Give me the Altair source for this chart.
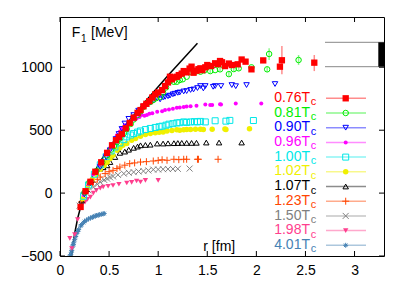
import altair as alt
import pandas as pd

# ---------------- data ----------------
labels = ["0.76", "0.81", "0.90", "0.96", "1.00", "1.02", "1.07", "1.23", "1.50", "1.98", "4.01"]

r_076 = [0.21, 0.26, 0.31, 0.36, 0.42, 0.48, 0.53, 0.57, 0.60, 0.63, 0.67, 0.71, 0.75, 0.79, 0.82, 0.85, 0.88, 0.91, 0.94, 0.97, 1.00, 1.04, 1.07, 1.10, 1.12, 1.14, 1.16, 1.19, 1.21, 1.24, 1.26, 1.29, 1.32, 1.34, 1.36, 1.39, 1.41, 1.43, 1.45, 1.48, 1.50, 1.54, 1.58, 1.61, 1.63, 1.65, 1.68, 1.72, 1.75, 1.81, 1.85, 1.89, 1.95, 2.07, 2.24, 2.26, 2.59]
f_076 = [-110, 15, 90, 170, 245, 320, 380, 420, 445, 470, 515, 558, 600, 638, 660, 690, 710, 731, 760, 785, 800, 819, 851, 880, 925, 905, 920, 925, 938, 950, 970, 960, 990, 1005, 957, 973, 985, 992, 978, 1000, 1018, 1010, 1032, 1025, 1050, 1040, 1010, 1030, 1018, 1024, 1062, 1045, 984, 1055, 1005, 1056, 1037]

r_081 = [0.25, 0.30, 0.37, 0.43, 0.48, 0.52, 0.55, 0.58, 0.61, 0.65, 0.68, 0.72, 0.75, 0.79, 0.82, 0.85, 0.885, 0.92, 0.95, 0.98, 1.02, 1.05, 1.08, 1.12, 1.16, 1.19, 1.22, 1.25, 1.29, 1.33, 1.38, 1.43, 1.47, 1.50, 1.53, 1.58, 1.63, 1.72, 1.77, 1.82, 1.95, 2.11, 2.13, 2.43]
f_081 = [5, 85, 175, 245, 300, 345, 375, 405, 434, 475, 510, 550, 585, 620, 650, 685, 713, 725, 740, 755, 766, 800, 840, 891, 885, 885, 899, 905, 925, 965, 965, 965, 975, 1005, 970, 978, 984, 946, 986, 992, 1000, 984, 1106, 1058]

r_090 = [0.25, 0.31, 0.37, 0.41, 0.47, 0.51, 0.54, 0.57, 0.60, 0.63, 0.66, 0.70, 0.75, 0.80, 0.85, 0.89, 0.92, 0.95, 0.99, 1.02, 1.05, 1.07, 1.10, 1.12, 1.15, 1.17, 1.20, 1.22, 1.26, 1.29, 1.33, 1.36, 1.40, 1.43, 1.46, 1.48, 1.56, 1.58, 1.64, 1.75, 1.79, 1.90, 2.19]
f_090 = [-10, 80, 165, 207, 285, 340, 380, 430, 470, 510, 553, 590, 620, 655, 686, 705, 720, 735, 753, 745, 760, 765, 770, 775, 785, 790, 797, 800, 808, 811, 820, 824, 835, 851, 832, 851, 845, 851, 851, 859, 850, 859, 867]

r_096 = [0.24, 0.29, 0.34, 0.40, 0.46, 0.50, 0.53, 0.56, 0.58, 0.61, 0.63, 0.66, 0.70, 0.73, 0.76, 0.78, 0.81, 0.83, 0.86, 0.885, 0.91, 0.94, 0.99, 1.04, 1.07, 1.11, 1.15, 1.19, 1.22, 1.26, 1.29, 1.33, 1.39, 1.48, 1.53, 1.55, 1.63, 1.64, 1.79, 2.05]
f_096 = [-15, 70, 150, 225, 300, 350, 390, 430, 460, 490, 514, 540, 553, 580, 585, 593, 605, 620, 615, 620, 630, 635, 646, 651, 660, 665, 670, 678, 680, 685, 688, 690, 694, 705, 700, 700, 707, 705, 712, 713]

r_100 = [0.24, 0.29, 0.35, 0.41, 0.47, 0.52, 0.56, 0.61, 0.65, 0.68, 0.72, 0.75, 0.79, 0.82, 0.87, 0.92, 0.97, 1.01, 1.04, 1.08, 1.11, 1.15, 1.19, 1.22, 1.26, 1.29, 1.33, 1.37, 1.40, 1.43, 1.48, 1.58, 1.69, 1.73, 1.97]
f_100 = [-25, 65, 150, 225, 290, 335, 367, 399, 425, 447, 462, 474, 485, 494, 505, 514, 522, 528, 532, 540, 548, 552, 558, 560, 566, 562, 566, 568, 566, 570, 566, 575, 572, 578, 577]

r_102 = [0.23, 0.28, 0.33, 0.37, 0.41, 0.45, 0.48, 0.51, 0.54, 0.58, 0.61, 0.64, 0.68, 0.73, 0.77, 0.82, 0.87, 0.92, 0.97, 1.01, 1.05, 1.09, 1.14, 1.19, 1.22, 1.26, 1.29, 1.33, 1.38, 1.43, 1.46, 1.55, 1.68, 1.69, 1.93]
f_102 = [-45, 40, 110, 150, 190, 220, 245, 275, 300, 340, 360, 380, 395, 420, 435, 452, 465, 474, 480, 484, 486, 494, 498, 504, 500, 503, 506, 505, 507, 507, 506, 508, 510, 506, 512]

r_107 = [0.22, 0.27, 0.32, 0.37, 0.41, 0.44, 0.48, 0.51, 0.56, 0.61, 0.66, 0.70, 0.75, 0.79, 0.82, 0.87, 0.92, 0.99, 1.05, 1.10, 1.16, 1.20, 1.24, 1.29, 1.34, 1.39, 1.49, 1.62, 1.85]
f_107 = [-60, 30, 105, 160, 195, 207, 221, 247, 287, 320, 330, 345, 360, 370, 380, 383, 385, 394, 394, 396, 397, 398, 399, 399, 399, 400, 402, 402, 402]

r_123 = [0.22, 0.26, 0.30, 0.34, 0.38, 0.41, 0.46, 0.50, 0.54, 0.58, 0.61, 0.66, 0.71, 0.76, 0.82, 0.88, 0.95, 1.00, 1.04, 1.09, 1.16, 1.21, 1.26, 1.29, 1.40, 1.41, 1.61]
f_123 = [-70, 10, 60, 88, 110, 128, 155, 170, 181, 195, 207, 222, 234, 240, 247, 250, 255, 260, 265, 261, 269, 266, 269, 269, 269, 269, 269]

r_150 = [0.20, 0.24, 0.29, 0.34, 0.38, 0.41, 0.45, 0.48, 0.51, 0.54, 0.59, 0.65, 0.70, 0.75, 0.80, 0.85, 0.90, 0.95, 1.00, 1.05, 1.10, 1.15, 1.20, 1.32]
f_150 = [-100, -20, 22, 48, 70, 88, 105, 115, 125, 133, 145, 155, 162, 167, 172, 175, 180, 187, 188, 190, 191, 192, 193, 195]

r_198 = [0.10, 0.12, 0.15, 0.18, 0.22, 0.255, 0.28, 0.31, 0.34, 0.37, 0.41, 0.44, 0.49, 0.54, 0.60, 0.68, 0.73, 0.78, 0.82, 0.87, 1.00]
f_198 = [-360, -440, -330, -210, -98, -72, -50, -32, 0, 22, 38, 48, 55, 61, 70, 80, 85, 96, 88, 101, 101]

r_401 = [0.10, 0.11, 0.115, 0.12, 0.13, 0.135, 0.14, 0.15, 0.16, 0.17, 0.18, 0.19, 0.21, 0.22, 0.24, 0.25, 0.27, 0.29, 0.31, 0.33, 0.34, 0.36, 0.37, 0.39, 0.40, 0.42, 0.44, 0.45]
f_401 = [-500, -490, -470, -455, -420, -410, -395, -370, -345, -320, -305, -290, -262, -250, -235, -225, -215, -205, -198, -192, -188, -182, -178, -175, -172, -168, -165, -162]

# error bars (only the visible ones)
err_r_076 = [2.07, 2.24, 2.26, 2.59]
err_lo_076 = [1035, 990, 944, 970]
err_hi_076 = [1075, 1020, 1170, 1098]
err_r_081 = [1.33, 1.43, 1.53, 1.63, 1.72, 1.77, 1.82, 1.95, 2.11, 2.13, 2.43]
err_lo_081 = [950, 950, 955, 968, 930, 970, 975, 985, 965, 1058, 1018]
err_hi_081 = [980, 980, 985, 1000, 962, 1002, 1009, 1015, 1005, 1151, 1098]

# fitted curve
curve_r = [0.118, 0.13, 0.15, 0.18, 0.22, 0.26, 0.30, 0.35, 0.40, 0.50, 0.60, 0.70, 0.80, 0.90, 1.00, 1.10, 1.20, 1.30, 1.40]
curve_f = [-500, -422, -319, -200, -81, 11, 87, 167, 238, 361, 469, 570, 665, 757, 846, 934, 1021, 1106, 1191]

x_ticks = [0, 0.5, 1, 1.5, 2, 2.5, 3]
y_ticks = [-500, 0, 500, 1000]

series_r = [r_076, r_081, r_090, r_096, r_100, r_102, r_107, r_123, r_150, r_198, r_401]
series_f = [f_076, f_081, f_090, f_096, f_100, f_102, f_107, f_123, f_150, f_198, f_401]
errors = {0: (err_r_076, err_lo_076, err_hi_076), 1: (err_r_081, err_lo_081, err_hi_081)}

# ---------------- styles ----------------
colors = ["#ff0000", "#00ee00", "#0000ff", "#ff00ff", "#00e8e8", "#f0f000",
          "#000000", "#ff4500", "#808080", "#ff3e8e", "#4682b4"]
PLUS = "M-1,0L1,0M0,-1L0,1"
CROSS = "M-1,-1L1,1M-1,1L1,-1"
STAR = "M-1,0L1,0M0,-1L0,1M-0.7,-0.7L0.7,0.7M-0.7,0.7L0.7,-0.7"
shapes = ["square", "circle", "triangle-down", "circle", "square", "circle",
          "triangle-up", PLUS, CROSS, "triangle-down", STAR]
filled = [True, False, False, True, False, True, False, False, False, True, False]
sizes = [40, 30, 30, 16, 36, 30, 30, 49, 36, 28, 25]

FONT = "Liberation Sans"
W, H = 324, 239

xs = alt.Scale(domain=[0, 3.3], nice=False, zero=False)
ys = alt.Scale(domain=[-500, 1400], nice=False, zero=False)
xaxis = alt.Axis(values=x_ticks, format="~g", title=None, ticks=False, domain=False,
                 grid=False, labelFlush=False, labelPadding=7)
yaxis = alt.Axis(values=y_ticks, format="d", title=None, ticks=False, domain=False,
                 grid=False, labelFlush=False, labelPadding=8)
X = alt.X("r:Q", scale=xs, axis=xaxis)
Y = alt.Y("F:Q", scale=ys, axis=yaxis)

dummy = pd.DataFrame({"d": [0]})
layers = []

# curve
curve_df = pd.DataFrame({"r": curve_r, "F": curve_f})
layers.append(alt.Chart(curve_df).mark_line(color="black", strokeWidth=1.5, clip=True).encode(x=X, y=Y))

# series (drawn so that low-T series end up on top)
for i in reversed(range(len(labels))):
    df = pd.DataFrame({"r": series_r[i], "F": series_f[i]})
    if i in errors:
        er, lo, hi = errors[i]
        edf = pd.DataFrame({"r": er, "lo": lo, "hi": hi})
        layers.append(alt.Chart(edf).mark_rule(color=colors[i], opacity=0.45, strokeWidth=1.5).encode(
            x=X, y=alt.Y("lo:Q", scale=ys, axis=yaxis), y2="hi:Q"))
    layers.append(alt.Chart(df).mark_point(
        shape=shapes[i], filled=filled[i], size=sizes[i], color=colors[i],
        strokeWidth=1, opacity=1, clip=True).encode(x=X, y=Y))

# legend
for i, lab in enumerate(labels):
    yp = 81.3 + 14.7 * i
    layers.append(alt.Chart(dummy).mark_rule(color=colors[i], opacity=0.45, strokeWidth=1.5).encode(
        x=alt.value(266), x2=alt.value(306), y=alt.value(yp)))
    layers.append(alt.Chart(dummy).mark_point(
        shape=shapes[i], filled=filled[i], size=sizes[i], color=colors[i], strokeWidth=1, opacity=1).encode(
        x=alt.value(285.7), y=alt.value(yp)))
    layers.append(alt.Chart(dummy).mark_text(
        text=lab + "T", align="right", baseline="alphabetic", font=FONT, fontSize=14, color=colors[i]).encode(
        x=alt.value(250), y=alt.value(yp + 3.6)))
    layers.append(alt.Chart(dummy).mark_text(
        text="c", align="left", baseline="alphabetic", font=FONT, fontSize=11, color=colors[i]).encode(
        x=alt.value(250.8), y=alt.value(yp + 7)))

# axis titles inside the frame
layers.append(alt.Chart(dummy).mark_text(text="F", align="left", baseline="alphabetic", font=FONT, fontSize=14, color="black").encode(
    x=alt.value(11.7), y=alt.value(20.3)))
layers.append(alt.Chart(dummy).mark_text(text="1", align="left", baseline="alphabetic", font=FONT, fontSize=10, color="black").encode(
    x=alt.value(21), y=alt.value(24.5)))
layers.append(alt.Chart(dummy).mark_text(text="[MeV]", align="left", baseline="alphabetic", font=FONT, fontSize=14, color="black").encode(
    x=alt.value(31), y=alt.value(20.3)))
layers.append(alt.Chart(dummy).mark_text(text="r [fm]", align="left", baseline="alphabetic", font=FONT, fontSize=14, color="black").encode(
    x=alt.value(143.3), y=alt.value(234)))

# inward ticks (mirrored)
xt = pd.DataFrame({"r": x_ticks})
yt = pd.DataFrame({"F": y_ticks})
layers.append(alt.Chart(xt).mark_rule(color="black", strokeWidth=1).encode(x=X, y=alt.value(H), y2=alt.value(H - 5)))
layers.append(alt.Chart(xt).mark_rule(color="black", strokeWidth=1).encode(x=X, y=alt.value(0), y2=alt.value(5)))
layers.append(alt.Chart(yt).mark_rule(color="black", strokeWidth=1).encode(y=Y, x=alt.value(0), x2=alt.value(5)))
layers.append(alt.Chart(yt).mark_rule(color="black", strokeWidth=1).encode(y=Y, x=alt.value(W - 5), x2=alt.value(W)))

# box artefact in the upper right corner
layers.append(alt.Chart(dummy).mark_rule(color="#888888", strokeWidth=1).encode(
    x=alt.value(265), x2=alt.value(W), y=alt.value(25.3)))
layers.append(alt.Chart(dummy).mark_rule(color="#888888", strokeWidth=1).encode(
    x=alt.value(265), x2=alt.value(W), y=alt.value(49.7)))
layers.append(alt.Chart(dummy).mark_rect(color="black").encode(
    x=alt.value(318.3), x2=alt.value(W), y=alt.value(25.3), y2=alt.value(49.7)))

chart = alt.layer(*layers).properties(
    width=W, height=H,
    autosize=alt.AutoSizeParams(type="none"),
    padding={"left": 52, "top": 9, "right": 17, "bottom": 22},
    background="white",
).configure_view(stroke="black", strokeWidth=1).configure_axis(
    labelFont=FONT, labelFontSize=14, labelColor="black"
)

chart.save("out.html", embed_options={"renderer": "svg", "actions": False})
